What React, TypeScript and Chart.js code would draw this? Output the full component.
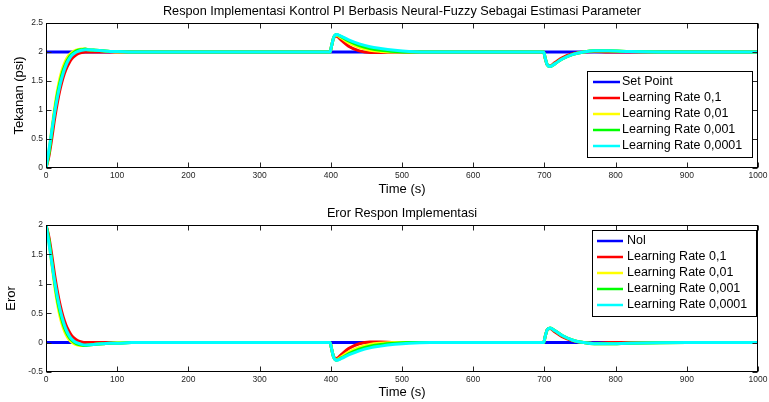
import React, { useEffect, useRef } from "react";
import { Chart, registerables } from "chart.js";

Chart.register(...registerables);

const FONT = "Arial, 'Liberation Sans', Helvetica, sans-serif";

// ---------- text ----------
const topTitle = "Respon Implementasi Kontrol PI Berbasis Neural-Fuzzy Sebagai Estimasi Parameter";
const bottomTitle = "Eror Respon Implementasi";
const xAxisTitle = "Time (s)";
const topYAxisTitle = "Tekanan (psi)";
const bottomYAxisTitle = "Eror";
const topRefLabel = "Set Point";
const bottomRefLabel = "Nol";
const seriesLabels = ["Learning Rate 0,1", "Learning Rate 0,01", "Learning Rate 0,001", "Learning Rate 0,0001"];

// ---------- ticks ----------
const xTicks = [0, 100, 200, 300, 400, 500, 600, 700, 800, 900, 1000];
const topYTicks = [0, 0.5, 1, 1.5, 2, 2.5];
const bottomYTicks = [-0.5, 0, 0.5, 1, 1.5, 2];

// ---------- data ----------
const time = [0, 4, 8, 12, 16, 20, 24, 28, 32, 36, 40, 45, 50, 55, 60, 70, 80, 90, 100, 120, 150, 200, 300, 399, 401, 404, 408, 415, 425, 440, 455, 470, 490, 510, 540, 600, 699, 701, 704, 708, 715, 725, 740, 755, 770, 790, 820, 900, 1000];

const refTime = [0, 1000];
const setPointValues = [2, 2];
const nolValues = [0, 0];

const outLR01 = [0, 0.2, 0.5, 0.84, 1.13, 1.37, 1.56, 1.7, 1.8, 1.88, 1.93, 1.97, 1.99, 2.0, 2.0, 2.0, 2.0, 2.0, 2.0, 2.0, 2.0, 2.0, 2.0, 2.0, 2.1, 2.24, 2.27, 2.2, 2.1, 2.02, 1.99, 1.99, 2.0, 2.0, 2.0, 2.0, 2.0, 1.9, 1.78, 1.76, 1.82, 1.9, 1.97, 2.0, 2.01, 2.0, 2.0, 2.0, 2.0];
const outLR001 = [0, 0.28, 0.65, 1.02, 1.33, 1.57, 1.74, 1.86, 1.94, 1.99, 2.02, 2.04, 2.05, 2.05, 2.04, 2.03, 2.02, 2.01, 2.0, 2.0, 2.0, 2.0, 2.0, 2.0, 2.1, 2.25, 2.29, 2.24, 2.16, 2.08, 2.03, 2.01, 2.0, 2.0, 2.0, 2.0, 2.0, 1.9, 1.78, 1.75, 1.8, 1.88, 1.96, 2.0, 2.02, 2.02, 2.01, 2.0, 2.0];
const outLR0001 = [0, 0.24, 0.6, 0.96, 1.27, 1.5, 1.68, 1.81, 1.9, 1.96, 2.0, 2.03, 2.04, 2.05, 2.04, 2.03, 2.02, 2.01, 2.01, 2.0, 2.0, 2.0, 2.0, 2.0, 2.1, 2.25, 2.3, 2.26, 2.19, 2.11, 2.06, 2.03, 2.01, 2.0, 2.0, 2.0, 2.0, 1.9, 1.78, 1.75, 1.8, 1.88, 1.96, 2.0, 2.02, 2.02, 2.01, 2.0, 2.0];
const outLR00001 = [0, 0.3, 0.63, 0.95, 1.22, 1.45, 1.63, 1.77, 1.87, 1.94, 1.98, 2.01, 2.03, 2.04, 2.04, 2.03, 2.02, 2.01, 2.01, 2.0, 2.0, 2.0, 2.0, 2.0, 2.1, 2.25, 2.3, 2.27, 2.21, 2.14, 2.09, 2.06, 2.03, 2.01, 2.0, 2.0, 2.0, 1.9, 1.78, 1.75, 1.8, 1.88, 1.96, 2.0, 2.02, 2.02, 2.01, 2.0, 2.0];

const errLR01 = [2, 1.8, 1.5, 1.16, 0.87, 0.63, 0.44, 0.3, 0.2, 0.12, 0.07, 0.03, 0.01, 0, 0, 0, 0, 0, 0, 0, 0, 0, 0, 0, -0.1, -0.24, -0.27, -0.2, -0.1, -0.02, 0.01, 0.01, 0, 0, 0, 0, 0, 0.1, 0.22, 0.24, 0.18, 0.1, 0.03, 0, -0.01, 0, 0, 0, 0];
const errLR001 = [2, 1.72, 1.35, 0.98, 0.67, 0.43, 0.26, 0.14, 0.06, 0.01, -0.02, -0.04, -0.05, -0.05, -0.04, -0.03, -0.02, -0.01, 0, 0, 0, 0, 0, 0, -0.1, -0.25, -0.29, -0.24, -0.16, -0.08, -0.03, -0.01, 0, 0, 0, 0, 0, 0.1, 0.22, 0.25, 0.2, 0.12, 0.04, 0, -0.02, -0.02, -0.01, 0, 0];
const errLR0001 = [2, 1.76, 1.4, 1.04, 0.73, 0.5, 0.32, 0.19, 0.1, 0.04, 0, -0.03, -0.04, -0.05, -0.04, -0.03, -0.02, -0.01, -0.01, 0, 0, 0, 0, 0, -0.1, -0.25, -0.3, -0.26, -0.19, -0.11, -0.06, -0.03, -0.01, 0, 0, 0, 0, 0.1, 0.22, 0.25, 0.2, 0.12, 0.04, 0, -0.02, -0.02, -0.01, 0, 0];
const errLR00001 = [2, 1.7, 1.37, 1.05, 0.78, 0.55, 0.37, 0.23, 0.13, 0.06, 0.02, -0.01, -0.03, -0.04, -0.04, -0.03, -0.02, -0.01, -0.01, 0, 0, 0, 0, 0, -0.1, -0.25, -0.3, -0.27, -0.21, -0.14, -0.09, -0.06, -0.03, -0.01, 0, 0, 0, 0.1, 0.22, 0.25, 0.2, 0.12, 0.04, 0, -0.02, -0.02, -0.01, 0, 0];

// ---------- styles ----------
const refColor = "#0000ff";
const seriesColors = ["#ff0000", "#ffff00", "#00ff00", "#00ffff"];

const toXY = (xs: number[], ys: number[]) => xs.map((x, i) => ({ x, y: ys[i] }));

const matlabPlugin = {
  id: "matlabFrame",
  afterDraw(chart: any, _args: any, opts: any) {
    const { ctx, chartArea: a } = chart;
    const L = Math.round(a.left) + 0.5;
    const R = Math.round(a.right) - 0.5;
    const T = Math.round(a.top) + 0.5;
    const B = Math.round(a.bottom) - 0.5;
    ctx.save();
    const xs = chart.scales.x;
    const ys = chart.scales.y;
    ctx.strokeStyle = "#262626";
    ctx.lineWidth = 1;
    ctx.beginPath();
    xs.ticks.forEach((t: any) => {
      const px = Math.round(xs.getPixelForValue(t.value)) + 0.5;
      ctx.moveTo(px, B);
      ctx.lineTo(px, B - 5);
      ctx.moveTo(px, T);
      ctx.lineTo(px, T + 5);
    });
    ys.ticks.forEach((t: any) => {
      const py = Math.round(ys.getPixelForValue(t.value)) + 0.5;
      ctx.moveTo(L, py);
      ctx.lineTo(L + 5, py);
      ctx.moveTo(R, py);
      ctx.lineTo(R - 5, py);
    });
    ctx.stroke();
    ctx.strokeStyle = "#000";
    ctx.strokeRect(L, T, R - L, B - T);
    ctx.fillStyle = "#000";
    ctx.font = `${opts.titleSize}px ${FONT}`;
    ctx.textAlign = "center";
    ctx.textBaseline = "alphabetic";
    ctx.fillText(opts.title, (a.left + a.right) / 2, opts.titleY);
    const lg = opts.legend;
    ctx.fillStyle = "#fff";
    ctx.fillRect(lg.left, lg.top, lg.width, lg.height);
    ctx.strokeStyle = "#000";
    ctx.strokeRect(lg.left + 0.5, lg.top + 0.5, lg.width, lg.height);
    ctx.font = `${lg.fontSize}px ${FONT}`;
    ctx.textAlign = "left";
    ctx.textBaseline = "middle";
    chart.data.datasets.forEach((ds: any, i: number) => {
      const y = lg.top + lg.firstRow + i * lg.rowStep;
      ctx.strokeStyle = ds.borderColor;
      ctx.lineWidth = 2.5;
      ctx.beginPath();
      ctx.moveTo(lg.left + lg.lineStart, y);
      ctx.lineTo(lg.left + lg.lineEnd, y);
      ctx.stroke();
      ctx.fillStyle = "#000";
      ctx.fillText(ds.label, lg.left + lg.textStart, y);
    });
    ctx.restore();
  },
};

function buildConfig(p: any) {
  const datasets: any[] = [
    {
      label: p.refLabel,
      data: toXY(refTime, p.refValues),
      borderColor: refColor,
      borderWidth: 3,
      pointRadius: 0,
      fill: false,
      order: 5,
    },
  ];
  p.series.forEach((vals: number[], i: number) => {
    datasets.push({
      label: seriesLabels[i],
      data: toXY(time, vals),
      borderColor: seriesColors[i],
      borderWidth: 3,
      pointRadius: 0,
      fill: false,
      cubicInterpolationMode: "monotone",
      order: 4 - i,
    });
  });
  return {
    type: "line",
    data: { datasets },
    plugins: [matlabPlugin],
    options: {
      responsive: false,
      animation: false,
      events: [],
      layout: { padding: { top: p.padTop, right: 11, left: 0, bottom: 0 } },
      plugins: {
        legend: { display: false },
        title: { display: false },
        tooltip: { enabled: false },
        matlabFrame: {
          title: p.title,
          titleY: p.titleY,
          titleSize: 12.7,
          legend: p.legend,
        },
      },
      scales: {
        x: {
          type: "linear",
          min: 0,
          max: 1000,
          afterBuildTicks: (s: any) => {
            s.ticks = xTicks.map((v) => ({ value: v }));
          },
          afterFit: (s: any) => {
            s.height = p.xHeight;
            s.paddingLeft = 0;
            s.paddingRight = 0;
          },
          ticks: {
            font: { family: FONT, size: 8.5 },
            color: "#262626",
            padding: 3,
            maxRotation: 0,
            autoSkip: false,
            callback: (v: any) => String(v),
          },
          grid: { display: false, drawTicks: false },
          border: { display: false },
          title: {
            display: true,
            text: xAxisTitle,
            font: { family: FONT, size: 13 },
            color: "#000",
            padding: { top: 0, bottom: p.xTitlePad },
          },
        },
        y: {
          type: "linear",
          min: p.yMin,
          max: p.yMax,
          afterBuildTicks: (s: any) => {
            s.ticks = p.yTicks.map((v: number) => ({ value: v }));
          },
          afterFit: (s: any) => {
            s.width = 46;
            s.paddingTop = 0;
            s.paddingBottom = 0;
          },
          ticks: {
            font: { family: FONT, size: 8.5 },
            color: "#262626",
            padding: 3,
            autoSkip: false,
            callback: (v: any) => String(v),
          },
          grid: { display: false, drawTicks: false },
          border: { display: false },
          title: {
            display: true,
            text: p.yTitle,
            font: { family: FONT, size: 13 },
            color: "#000",
            padding: { top: p.yTitlePad, bottom: 0 },
          },
        },
      },
    },
  };
}

export default function App() {
  const topRef = useRef<HTMLCanvasElement>(null);
  const botRef = useRef<HTMLCanvasElement>(null);

  useEffect(() => {
    const topChart = new Chart(
      topRef.current as HTMLCanvasElement,
      buildConfig({
        refLabel: topRefLabel,
        refValues: setPointValues,
        series: [outLR01, outLR001, outLR0001, outLR00001],
        yTicks: topYTicks,
        yMin: 0,
        yMax: 2.5,
        yTitle: topYAxisTitle,
        yTitlePad: 12,
        title: topTitle,
        titleY: 15,
        padTop: 23,
        xHeight: 33,
        xTitlePad: 3.5,
        legend: { left: 587, top: 71, width: 165, height: 86, firstRow: 11, rowStep: 16, lineStart: 6, lineEnd: 33, textStart: 35, fontSize: 12.5 },
      }) as any
    );
    const botChart = new Chart(
      botRef.current as HTMLCanvasElement,
      buildConfig({
        refLabel: bottomRefLabel,
        refValues: nolValues,
        series: [errLR01, errLR001, errLR0001, errLR00001],
        yTicks: bottomYTicks,
        yMin: -0.5,
        yMax: 2,
        yTitle: bottomYAxisTitle,
        yTitlePad: 3.5,
        title: bottomTitle,
        titleY: 16,
        padTop: 24,
        xHeight: 30,
        xTitlePad: 2,
        legend: { left: 592, top: 29, width: 164, height: 86, firstRow: 11, rowStep: 16, lineStart: 5, lineEnd: 31, textStart: 35, fontSize: 12.5 },
      }) as any
    );
    return () => {
      topChart.destroy();
      botChart.destroy();
    };
  }, []);

  return (
    <div style={{ position: "absolute", left: 0, top: 0, width: 769, height: 402, background: "#fff" }}>
      <canvas ref={topRef} width={769} height={201} style={{ display: "block" }} />
      <canvas ref={botRef} width={769} height={201} style={{ display: "block" }} />
    </div>
  );
}
